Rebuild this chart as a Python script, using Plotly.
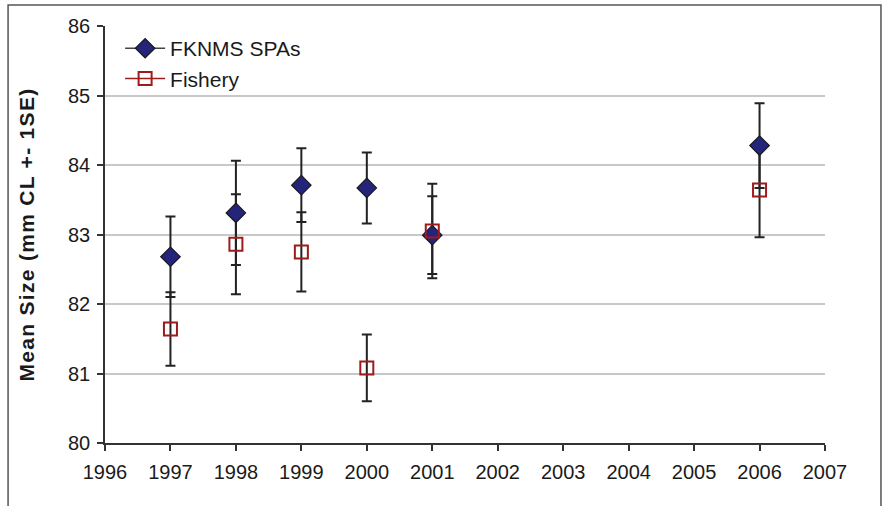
import plotly.graph_objects as go

years_spa = [1997, 1998, 1999, 2000, 2001, 2006]
spa_mean = [82.68, 83.31, 83.71, 83.67, 82.99, 84.28]
spa_se = [0.58, 0.75, 0.53, 0.51, 0.56, 0.61]

years_fish = [1997, 1998, 1999, 2000, 2001, 2006]
fish_mean = [81.64, 82.86, 82.75, 81.08, 83.05, 83.64]
fish_se = [0.53, 0.72, 0.57, 0.48, 0.68, 0.68]

x_ticks = list(range(1996, 2008))
y_ticks = [80, 81, 82, 83, 84, 85, 86]

SPA_FILL = "#24247A"
FISH_RED = "#9E1B1B"
ERR = "#222222"
FONT = "Liberation Sans, Arial, sans-serif"

fig = go.Figure()

# error bars first (drawn beneath all markers)
for xs, ys, es in [(years_spa, spa_mean, spa_se), (years_fish, fish_mean, fish_se)]:
    fig.add_trace(go.Scatter(
        x=xs, y=ys, mode="markers", showlegend=False, hoverinfo="skip",
        marker=dict(size=1, color="rgba(0,0,0,0)"),
        error_y=dict(type="data", array=es, visible=True, color=ERR, thickness=2, width=5),
    ))

# markers
fig.add_trace(go.Scatter(
    x=years_spa, y=spa_mean, mode="markers", showlegend=False,
    marker=dict(symbol="diamond", size=15, color=SPA_FILL, line=dict(width=1.2, color="#1a1a1a")),
))
fig.add_trace(go.Scatter(
    x=years_fish, y=fish_mean, mode="markers", showlegend=False,
    marker=dict(symbol="square-open", size=13, color=FISH_RED, line=dict(width=2, color=FISH_RED)),
))

# legend entries (Excel-style line + marker)
fig.add_trace(go.Scatter(
    x=[None], y=[None], mode="lines+markers", name="FKNMS SPAs",
    line=dict(color="#444444", width=1.5),
    marker=dict(symbol="diamond", size=15, color=SPA_FILL, line=dict(width=1.2, color="#1a1a1a")),
))
fig.add_trace(go.Scatter(
    x=[None], y=[None], mode="lines+markers", name="Fishery",
    line=dict(color=FISH_RED, width=1.5),
    marker=dict(symbol="square-open", size=13, color=FISH_RED, line=dict(width=2, color=FISH_RED)),
))

fig.update_layout(
    width=888, height=506,
    margin=dict(l=105, r=62.5, t=26, b=63),
    paper_bgcolor="white", plot_bgcolor="white",
    font=dict(family=FONT, size=20, color="#1a1a1a"),
    showlegend=True,
    legend=dict(x=0.021, y=0.995, xanchor="left", yanchor="top",
                bgcolor="rgba(0,0,0,0)", font=dict(size=21, family=FONT),
                tracegroupgap=0, itemwidth=40),
    xaxis=dict(range=[1996, 2007], tickvals=x_ticks, ticktext=[str(v) for v in x_ticks],
               showgrid=False, zeroline=False, showline=True, linecolor="#333333", linewidth=1.5,
               ticks="outside", ticklen=6, tickwidth=1.5, tickcolor="#333333",
               ticklabelstandoff=4,
               tickfont=dict(size=20, family=FONT, color="#1a1a1a")),
    yaxis=dict(range=[80, 86], tickvals=y_ticks, ticktext=[str(v) for v in y_ticks],
               showgrid=True, gridcolor="#C8C8C8", gridwidth=1.5, zeroline=False,
               showline=True, linecolor="#333333", linewidth=1.5,
               ticks="outside", ticklen=6, tickwidth=1.5, tickcolor="#333333",
               ticklabelstandoff=3,
               tickfont=dict(size=20, family=FONT, color="#1a1a1a"),
               title=dict(text="<b><span style=\"letter-spacing:1.3px\">Mean Size (mm CL +- 1SE)</span></b>",
                          standoff=28,
                          font=dict(size=21, family=FONT, color="#1a1a1a"))),
    shapes=[dict(type="rect", xref="paper", yref="paper",
                 x0=(8 - 105) / 720.5, x1=(881.5 - 105) / 720.5,
                 y0=(443 - 530) / 417, y1=(443 - 5) / 417,
                 line=dict(color="#555555", width=1.5), fillcolor="rgba(0,0,0,0)", layer="below")],
)

fig.write_html("out.html")
